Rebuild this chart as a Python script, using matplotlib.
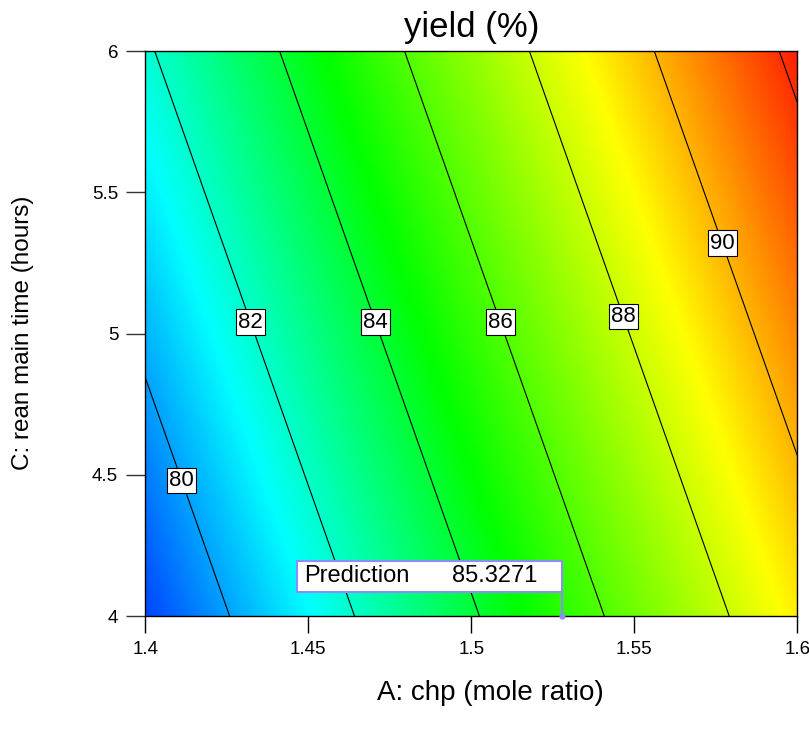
import matplotlib
matplotlib.use("Agg")
import matplotlib.pyplot as plt
import numpy as np
from matplotlib.colors import LinearSegmentedColormap
from matplotlib.patches import Rectangle

plt.rcParams['font.family'] = ['Liberation Sans', 'DejaVu Sans']

# factor ranges
a_range = [1.4, 1.6]      # A: chp (mole ratio)
c_range = [4.0, 6.0]      # C: rean main time (hours)

# linear model in coded units: yield = b0 + bA*A + bC*C
b0 = 85.47
bA = 5.22
bC = 1.60

levels = [80, 82, 84, 86, 88, 90, 92]
labelled = [80, 82, 84, 86, 88, 90]
label_c = [4.48, 5.04, 5.04, 5.04, 5.06, 5.32]

x_ticks = [1.4, 1.45, 1.5, 1.55, 1.6]
y_ticks = [4, 4.5, 5, 5.5, 6]

pred_value = 85.3271
pred_c = 4.0

# colour stops (fraction of response range)
stop_pos = [0.0, 0.194, 0.443, 0.751, 1.0]
stop_col = ['#0046ff', '#00ffff', '#00ff00', '#ffff00', '#ff2000']


def coded_a(a):
    return (a - 1.5) / 0.1


def coded_c(c):
    return (c - 5.0) / 1.0


def model(a, c):
    return b0 + bA * coded_a(a) + bC * coded_c(c)


def a_for(value, c):
    ac = (value - b0 - bC * coded_c(c)) / bA
    return 1.5 + 0.1 * ac


cmap = LinearSegmentedColormap.from_list('de', list(zip(stop_pos, stop_col)))

A = np.linspace(a_range[0], a_range[1], 400)
C = np.linspace(c_range[0], c_range[1], 400)
AA, CC = np.meshgrid(A, C)
Z = model(AA, CC)

fig = plt.figure(figsize=(8.09, 7.36), dpi=100)
ax = fig.add_axes([0.1796, 0.163, 0.8059, 0.7677])

ax.imshow(Z, origin='lower', extent=[a_range[0], a_range[1], c_range[0], c_range[1]],
          aspect='auto', cmap=cmap, vmin=Z.min(), vmax=Z.max(), interpolation='bilinear')
ax.contour(AA, CC, Z, levels=levels, colors='black', linewidths=0.8)

for lev, cy in zip(labelled, label_c):
    ax.text(a_for(lev, cy), cy, str(lev), fontsize=16, ha='center', va='center',
            bbox=dict(boxstyle='square,pad=0.1', fc='white', ec='black', lw=0.8), zorder=5)

# prediction flag
pa = a_for(pred_value, pred_c)
box_left = 1.4465
box_bottom = 4.085
box_top = 4.195
ax.add_patch(Rectangle((box_left, box_bottom), pa - box_left, box_top - box_bottom,
                       fc='white', ec='#8c8cff', lw=1.5, zorder=6))
ax.plot([pa, pa], [box_bottom, pred_c], color='#8c8cff', lw=1.5, zorder=6, clip_on=False)
ax.plot([pa], [pred_c], 'o', color='#8c8cff', ms=3.5, zorder=7, clip_on=False)
ax.text(box_left + 0.0022, (box_bottom + box_top) / 2, 'Prediction', fontsize=17,
        ha='left', va='center', zorder=7)
ax.text(pa - 0.0077, (box_bottom + box_top) / 2, f'{model(pa, pred_c):.4f}', fontsize=17,
        ha='right', va='center', zorder=7)

ax.set_xlim(a_range)
ax.set_ylim(c_range)
ax.set_xticks(x_ticks)
ax.set_xticklabels(['1.4', '1.45', '1.5', '1.55', '1.6'])
ax.set_yticks(y_ticks)
ax.set_yticklabels(['4', '4.5', '5', '5.5', '6'])
ax.tick_params(axis='x', length=12, width=1, color='black', pad=6, labelsize=13.5)
ax.tick_params(axis='y', length=13.5, width=1, color='#333333', pad=6, labelsize=13.5)
for s in ax.spines.values():
    s.set_linewidth(1)

ax.set_title('yield (%)', fontsize=25, pad=10)
fig.text(23 / 809, 1 - 333 / 736, 'C: rean main time (hours)', fontsize=17.5,
         rotation=90, ha='center', va='center')
fig.text(490 / 809, 1 - 693 / 736, 'A: chp (mole ratio)', fontsize=20, ha='center', va='center')

fig.savefig('out.png', dpi=100)
